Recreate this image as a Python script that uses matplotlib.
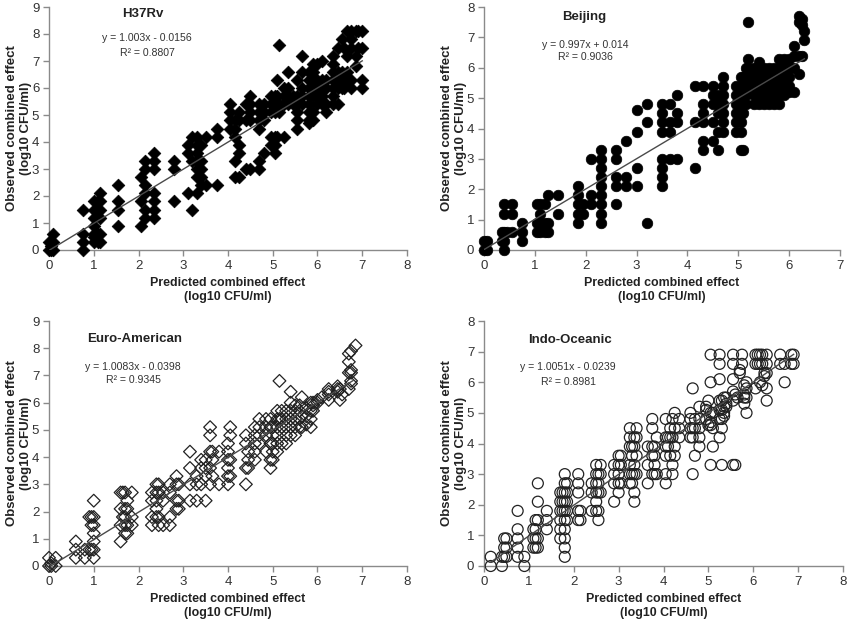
import matplotlib
matplotlib.use("Agg")
import matplotlib.pyplot as plt

plt.rcParams['font.family'] = ['Liberation Sans', 'DejaVu Sans']

# ---------------- data (columns: predicted x, observed ys) ----------------
h37_cols = [
    (0.0, [0, 0.3]), (0.05, [0, 0.15]), (0.1, [0, 0.3, 0.6]),
    (0.75, [0, 0.3, 0.6, 1.5]),
    (1.0, [0.3, 0.5, 0.6, 0.9, 1.2, 1.5, 1.8]), (1.1, [0.3, 0.6, 1.5, 1.8]),
    (1.15, [0.3, 0.6, 1.2, 1.5, 1.8, 2.1]),
    (1.55, [0.9, 1.5, 1.8, 2.4]),
    (2.05, [0.9, 1.8, 2.7]), (2.15, [1.2, 1.5, 2.1, 2.4, 3.0, 3.3]),
    (2.35, [1.2, 1.5, 1.8, 2.1, 3.0, 3.3, 3.6]),
    (2.8, [1.8, 3.0, 3.3]),
    (3.1, [2.1, 3.6, 3.9]), (3.2, [1.5, 3.3, 4.2]),
    (3.3, [2.1, 2.7, 3.0, 3.3, 3.6, 3.9, 4.2]), (3.4, [2.4, 2.7, 3.0, 3.3, 3.9]),
    (3.5, [2.4, 4.2]), (3.75, [2.4, 4.2, 4.5]),
    (4.05, [4.5, 4.8, 5.1, 5.4]), (4.15, [2.7, 3.3, 4.2, 4.5, 4.8]),
    (4.25, [2.7, 3.6, 3.9, 4.8, 5.1]), (4.4, [3.0, 4.8, 5.4]),
    (4.5, [3.0, 4.8, 5.1, 5.4, 5.7]), (4.7, [3.0, 3.3, 4.5, 4.8, 5.1, 5.4]),
    (4.8, [3.6, 4.8, 5.1, 5.4]), (4.95, [3.9, 4.2, 5.1, 5.4, 5.7]),
    (5.05, [3.6, 3.9, 4.2, 5.1, 5.4, 5.7]), (5.1, [4.2, 5.4, 5.7, 6.3]),
    (5.15, [5.1, 5.4, 7.6]), (5.25, [4.2, 5.4, 5.7, 6.0]),
    (5.35, [5.4, 5.7, 6.0, 6.6]), (5.45, [5.4, 5.7]),
    (5.55, [4.5, 4.8, 5.1, 5.4, 5.7, 6.3]), (5.65, [5.4, 5.7, 6.0, 6.6, 7.2]),
    (5.8, [4.7, 4.8, 5.1, 5.4, 5.7, 6.0, 6.3, 6.6]),
    (5.9, [4.8, 5.1, 5.7, 6.0, 6.3, 6.6, 6.9]), (6.0, [5.4, 5.7, 6.0, 6.3, 6.9]),
    (6.1, [5.4, 5.7, 6.0, 6.3, 7.0]), (6.2, [5.1, 5.4, 6.0, 6.3]),
    (6.35, [5.4, 5.7, 6.0, 6.3, 6.6, 6.9, 7.2]), (6.45, [5.4, 6.0, 6.3, 6.6, 7.5]),
    (6.55, [6.0, 6.3, 6.6, 7.8]), (6.6, [6.0, 6.3, 6.5, 7.5]),
    (6.65, [6.3, 6.6, 7.2, 8.1]), (6.75, [6.0, 6.3, 7.5, 7.8, 8.1]),
    (6.85, [6.8, 7.2, 8.1]), (6.9, [7.5, 8.1]), (7.0, [6.0, 6.3, 7.5, 8.1]),
]

beijing_cols = [
    (0.0, [0, 0.3]), (0.05, [0, 0.3]), (0.35, [0.3, 0.6]),
    (0.4, [0, 0.3, 0.6, 1.2, 1.5]), (0.45, [0.6]), (0.55, [0.6, 1.2, 1.5]),
    (0.75, [0.3, 0.6, 0.9]), (1.05, [0.6, 0.9, 1.5]), (1.1, [0.6, 0.9, 1.2, 1.5]),
    (1.2, [0.6, 0.9, 1.5]), (1.25, [0.6, 0.9, 1.8]), (1.45, [1.2, 1.8]),
    (1.85, [0.9, 1.2, 1.5, 1.8, 2.1]), (1.95, [1.2, 1.5]), (2.1, [1.5, 1.8, 3.0]),
    (2.3, [0.9, 1.2, 1.5, 1.8, 2.1, 2.4, 2.7, 3.0, 3.3]),
    (2.6, [1.5, 2.1, 2.4, 3.0, 3.3]), (2.8, [2.1, 2.4, 3.6]),
    (3.0, [2.1, 2.7, 3.9, 4.6]), (3.2, [0.9, 4.2, 4.8]),
    (3.5, [2.1, 2.4, 2.7, 3.0, 3.9, 4.2, 4.5, 4.8]), (3.65, [3.0, 3.9, 4.2, 4.8]),
    (3.8, [3.0, 4.2, 4.5, 5.1]), (4.15, [2.7, 4.2, 5.4]),
    (4.3, [3.3, 3.6, 4.2, 4.5, 4.8, 5.4]), (4.5, [3.6, 4.2, 4.8, 5.1, 5.4]),
    (4.6, [3.3, 3.9, 4.5, 4.8, 5.1]), (4.7, [3.9, 4.2, 4.5, 4.8, 5.1, 5.4, 5.7]),
    (4.95, [3.9, 4.2, 4.5, 4.8, 5.1, 5.4]), (5.05, [3.3, 3.9, 4.2, 4.5, 5.1, 5.4, 5.7]),
    (5.1, [3.3, 4.5, 4.8, 5.1, 5.4, 5.7]), (5.15, [4.8, 5.1, 5.4, 5.7, 6.0]),
    (5.2, [5.4, 5.7, 6.0, 6.3, 7.5]), (5.3, [4.8, 5.1, 5.4, 5.7, 6.0]),
    (5.4, [4.8, 5.1, 5.4, 5.7, 6.0, 6.2]), (5.5, [4.8, 5.1, 5.4, 5.7, 6.0]),
    (5.6, [4.8, 5.1, 5.4, 5.7, 6.0]), (5.7, [4.8, 5.1, 5.4, 5.7, 6.0]),
    (5.8, [4.8, 5.1, 5.4, 5.7, 6.0, 6.3]), (5.9, [5.1, 5.4, 5.7, 6.0, 6.3]),
    (6.0, [5.2, 5.4, 5.7, 6.0, 6.3]), (6.1, [5.2, 6.0, 6.4, 6.7]),
    (6.2, [5.8, 6.4, 7.5, 7.7]), (6.25, [6.4, 7.4, 7.6]), (6.3, [6.9, 7.2]),
]

euro_cols = [
    (0.0, [0, 0.3]), (0.05, [0, 0.1]), (0.15, [0, 0.3]),
    (0.6, [0.3, 0.6, 0.9]), (0.8, [0.3, 0.6]), (0.9, [0.6, 1.8]),
    (0.95, [0.6, 1.5, 1.8]), (1.0, [0.3, 0.6, 0.9, 1.2, 1.5, 1.8, 2.4]),
    (1.6, [0.9, 1.5, 2.1, 2.7]), (1.65, [1.8, 2.7]), (1.7, [1.2, 1.5, 1.8, 2.1, 2.7]),
    (1.75, [1.2, 1.5, 2.1, 2.4]), (1.85, [1.5, 1.8, 2.7]),
    (2.3, [1.5, 1.8, 2.4, 2.7]), (2.4, [1.8, 2.1, 2.4, 2.7, 3.0]),
    (2.45, [1.5, 1.8, 2.7, 3.0]), (2.55, [1.5, 2.4, 2.7]),
    (2.7, [1.5, 1.8, 2.7, 3.0]), (2.85, [2.1, 2.4, 3.0, 3.3]), (2.9, [2.1, 2.4, 3.0]),
    (3.15, [2.4, 3.0, 3.6, 4.2]), (3.3, [2.4, 3.0, 3.3]), (3.4, [3.0, 3.6, 3.9]),
    (3.5, [2.4, 3.3, 3.6, 3.9]), (3.6, [3.0, 3.6, 4.2, 4.8, 5.1]),
    (3.65, [3.3, 3.9, 4.2]), (3.8, [3.0, 4.2]),
    (4.0, [3.0, 3.3, 3.6, 3.9, 4.2, 4.5]), (4.05, [3.3, 3.9, 4.8, 5.1]),
    (4.4, [3.0, 3.6, 4.5, 4.8]), (4.45, [3.6, 3.9, 4.2]),
    (4.6, [3.9, 4.2, 4.5, 4.8, 5.1]), (4.7, [4.5, 4.8, 5.1, 5.4]),
    (4.85, [4.2, 4.8, 5.1, 5.4]), (4.95, [3.6, 3.9, 4.5, 5.1, 5.4]),
    (5.0, [3.9, 4.2, 4.5, 4.8, 5.1]), (5.1, [4.2, 4.5, 4.8, 5.1, 5.4, 5.7]),
    (5.15, [5.4, 6.8]), (5.2, [4.5, 5.1, 5.4, 5.7]), (5.3, [4.5, 4.8, 5.1, 5.4, 5.7]),
    (5.4, [4.8, 5.1, 5.4, 5.7, 6.0, 6.4]), (5.5, [4.8, 5.1, 5.4, 5.7, 5.9]),
    (5.6, [5.1, 5.4, 5.7, 5.9]), (5.65, [5.1, 5.5, 6.2]), (5.75, [5.2, 5.5, 5.8]),
    (5.85, [5.1, 5.4, 5.7, 6.0]), (5.9, [5.7, 5.9, 6.0]), (6.0, [6.0, 6.1]),
    (6.1, [6.2]), (6.25, [6.1, 6.3, 6.4, 6.5]), (6.45, [6.4, 6.5, 6.6]),
    (6.5, [6.1, 6.5]), (6.55, [6.3]), (6.7, [6.5, 7.1, 7.5, 7.8]),
    (6.75, [6.7, 6.8, 7.1, 7.2, 7.9]), (6.85, [8.1]),
]

indo_cols = [
    (0.15, [0, 0.3]), (0.4, [0, 0.3]), (0.45, [0.3, 0.6, 0.9]), (0.5, [0.3, 0.6, 0.9]),
    (0.75, [0.3, 0.6, 0.9, 1.2, 1.8]), (0.9, [0, 0.3]), (1.1, [0.6, 0.9, 1.2]),
    (1.15, [0.6, 0.9, 1.2, 1.5]), (1.2, [0.6, 0.9, 1.5, 2.1, 2.7]),
    (1.4, [1.2, 1.5, 1.8]), (1.7, [0.9, 1.2, 1.5, 1.8, 2.1, 2.4]),
    (1.75, [1.8, 2.1, 2.4]), (1.8, [0.3, 0.6, 0.9, 1.2, 1.5, 1.8, 2.1, 2.4, 2.7, 3.0]),
    (1.85, [1.5, 1.8, 2.1, 2.4, 2.7]), (2.1, [1.5, 1.8, 2.4, 2.7, 3.0]),
    (2.15, [1.5, 1.8]), (2.4, [1.8, 2.4, 2.7]), (2.5, [1.8, 2.1, 2.4, 2.7, 3.0, 3.3]),
    (2.55, [1.5, 1.8, 2.4, 2.7, 3.0]), (2.6, [2.4, 3.0, 3.3]),
    (2.9, [2.1, 2.7, 3.0, 3.3]), (3.0, [2.4, 2.7, 3.0, 3.3, 3.6]), (3.05, [2.7, 3.3, 3.6]),
    (3.25, [2.7, 3.0, 3.3, 3.9, 4.2, 4.5]), (3.3, [2.7, 3.0, 3.6, 3.9]),
    (3.35, [2.1, 2.4, 3.0, 3.3, 3.9, 4.2]), (3.4, [3.0, 3.6, 4.2, 4.5]),
    (3.65, [2.7, 3.3, 3.9]), (3.75, [3.0, 3.6, 3.9, 4.5, 4.8]),
    (3.8, [3.0, 3.3, 3.6, 3.9]), (3.85, [3.0, 4.2]),
    (4.05, [2.7, 3.0, 3.6, 3.9, 4.2, 4.8]), (4.1, [3.9, 4.2]), (4.15, [3.6, 4.2, 4.5]),
    (4.2, [3.0, 3.3, 4.2, 4.8]), (4.25, [3.6, 3.9, 4.5, 5.0]), (4.35, [4.2, 4.5, 4.8]),
    (4.6, [4.2, 4.5, 4.8, 5.0]), (4.65, [3.0, 4.2, 4.5, 5.8]), (4.7, [3.6, 4.5, 4.8]),
    (4.8, [3.9, 4.2, 4.5, 4.8, 5.2]), (4.95, [4.8, 5.1, 5.2]), (5.0, [4.6, 5.4]),
    (5.05, [3.3, 4.6, 4.7, 5.0, 6.0, 6.9]), (5.1, [3.9, 4.5, 5.0]),
    (5.25, [4.2, 4.8, 5.1, 5.4, 6.1, 6.6, 6.9]), (5.3, [3.3, 4.5, 4.8, 5.1, 5.4]),
    (5.35, [4.9, 5.0, 5.2, 5.5]), (5.4, [5.2, 5.3, 5.5]),
    (5.55, [3.3, 5.4, 5.7, 6.1, 6.6, 6.9]), (5.6, [3.3, 5.6]), (5.65, [5.5]),
    (5.7, [6.3, 6.4]), (5.75, [6.6, 6.9]), (5.8, [5.3, 5.5, 5.6, 5.9]),
    (5.85, [5.0, 5.5, 5.8, 6.0]), (6.05, [5.8, 6.6, 6.9]), (6.1, [6.6, 6.9]),
    (6.15, [6.0, 6.6, 6.9]), (6.2, [5.9, 6.6, 6.9]), (6.25, [6.2, 6.3]),
    (6.3, [5.4, 5.8, 6.3, 6.6, 6.9]), (6.6, [6.6, 6.9]), (6.7, [6.0, 6.6]),
    (6.85, [6.6, 6.9]), (6.9, [6.6, 6.9]),
]

titles = ["H37Rv", "Beijing", "Euro-American", "Indo-Oceanic"]
equations = ["y = 1.003x - 0.0156", "y = 0.997x + 0.014",
             "y = 1.0083x - 0.0398", "y = 1.0051x - 0.0239"]
r2_labels = ["R² = 0.8807", "R² = 0.9036", "R² = 0.9345", "R² = 0.8981"]
slopes = [1.003, 0.997, 1.0083, 1.0051]
intercepts = [-0.0156, 0.014, -0.0398, -0.0239]
line_x = [(0.0, 7.0), (0.0, 6.3), (0.0, 6.8), (0.15, 6.9)]
x_max = [8, 7, 8, 8]
y_max = [9, 8, 9, 8]


def expand(cols):
    xs, ys = [], []
    for x, yl in cols:
        for y in yl:
            xs.append(x)
            ys.append(y)
    return xs, ys


datasets = [expand(h37_cols), expand(beijing_cols), expand(euro_cols), expand(indo_cols)]

marker_styles = [
    dict(marker='D', s=42, c='black', edgecolors='black', linewidths=0.5),
    dict(marker='o', s=58, c='black', edgecolors='black', linewidths=0.5),
    dict(marker='D', s=42, facecolors='none', edgecolors='#222222', linewidths=0.9),
    dict(marker='o', s=62, facecolors='none', edgecolors='#222222', linewidths=0.9),
]

W, H = 851, 623
axes_px = [  # left, top, right, bottom in pixels
    (49, 7, 407, 250),
    (484, 7, 840, 250),
    (49, 321, 407, 566),
    (484, 321, 843, 566),
]
title_pos = [(0.263, 0.972), (0.281, 0.958), (0.24, 0.927), (0.24, 0.922)]
eq_pos = [(0.274, 0.872), (0.284, 0.844), (0.235, 0.812), (0.234, 0.812)]
r2_pos = [(0.274, 0.81), (0.284, 0.794), (0.235, 0.759), (0.234, 0.751)]

fig = plt.figure(figsize=(W / 100, H / 100), dpi=100)
gray = '#8a8a8a'
for i in range(4):
    l, t, r, b = axes_px[i]
    ax = fig.add_axes([l / W, 1 - b / H, (r - l) / W, (b - t) / H])
    xs, ys = datasets[i]
    ax.scatter(xs, ys, zorder=3, clip_on=False, **marker_styles[i])
    x0, x1 = line_x[i]
    ax.plot([x0, x1], [slopes[i] * x0 + intercepts[i], slopes[i] * x1 + intercepts[i]],
            color='#4a4a4a', lw=1.0, zorder=4)
    ax.set_xlim(0, x_max[i])
    ax.set_ylim(0, y_max[i])
    ax.set_xticks(range(0, x_max[i] + 1))
    ax.set_yticks(range(0, y_max[i] + 1))
    for s in ['top', 'right']:
        ax.spines[s].set_visible(False)
    for s in ['left', 'bottom']:
        ax.spines[s].set_color(gray)
        ax.spines[s].set_linewidth(1.0)
    ax.tick_params(direction='out', length=4, width=1, color=gray,
                   labelsize=9.5, labelcolor='#333333', pad=3)
    ax.set_xlabel("Predicted combined effect\n(log10 CFU/ml)", fontsize=8.9,
                  fontweight='bold', color='#222222', labelpad=4, linespacing=1.2)
    ax.set_ylabel("Observed combined effect\n(log10 CFU/ml)", fontsize=9.5,
                  fontweight='bold', color='#222222', labelpad=0, linespacing=1.15)
    ax.text(*title_pos[i], titles[i], transform=ax.transAxes, ha='center', va='center',
            fontsize=9.5, fontweight='bold', color='#222222')
    ax.text(*eq_pos[i], equations[i], transform=ax.transAxes, ha='center', va='center',
            fontsize=7.6, color='#333333')
    ax.text(*r2_pos[i], r2_labels[i], transform=ax.transAxes, ha='center', va='center',
            fontsize=7.6, color='#333333')

fig.savefig("out.png", dpi=100)
